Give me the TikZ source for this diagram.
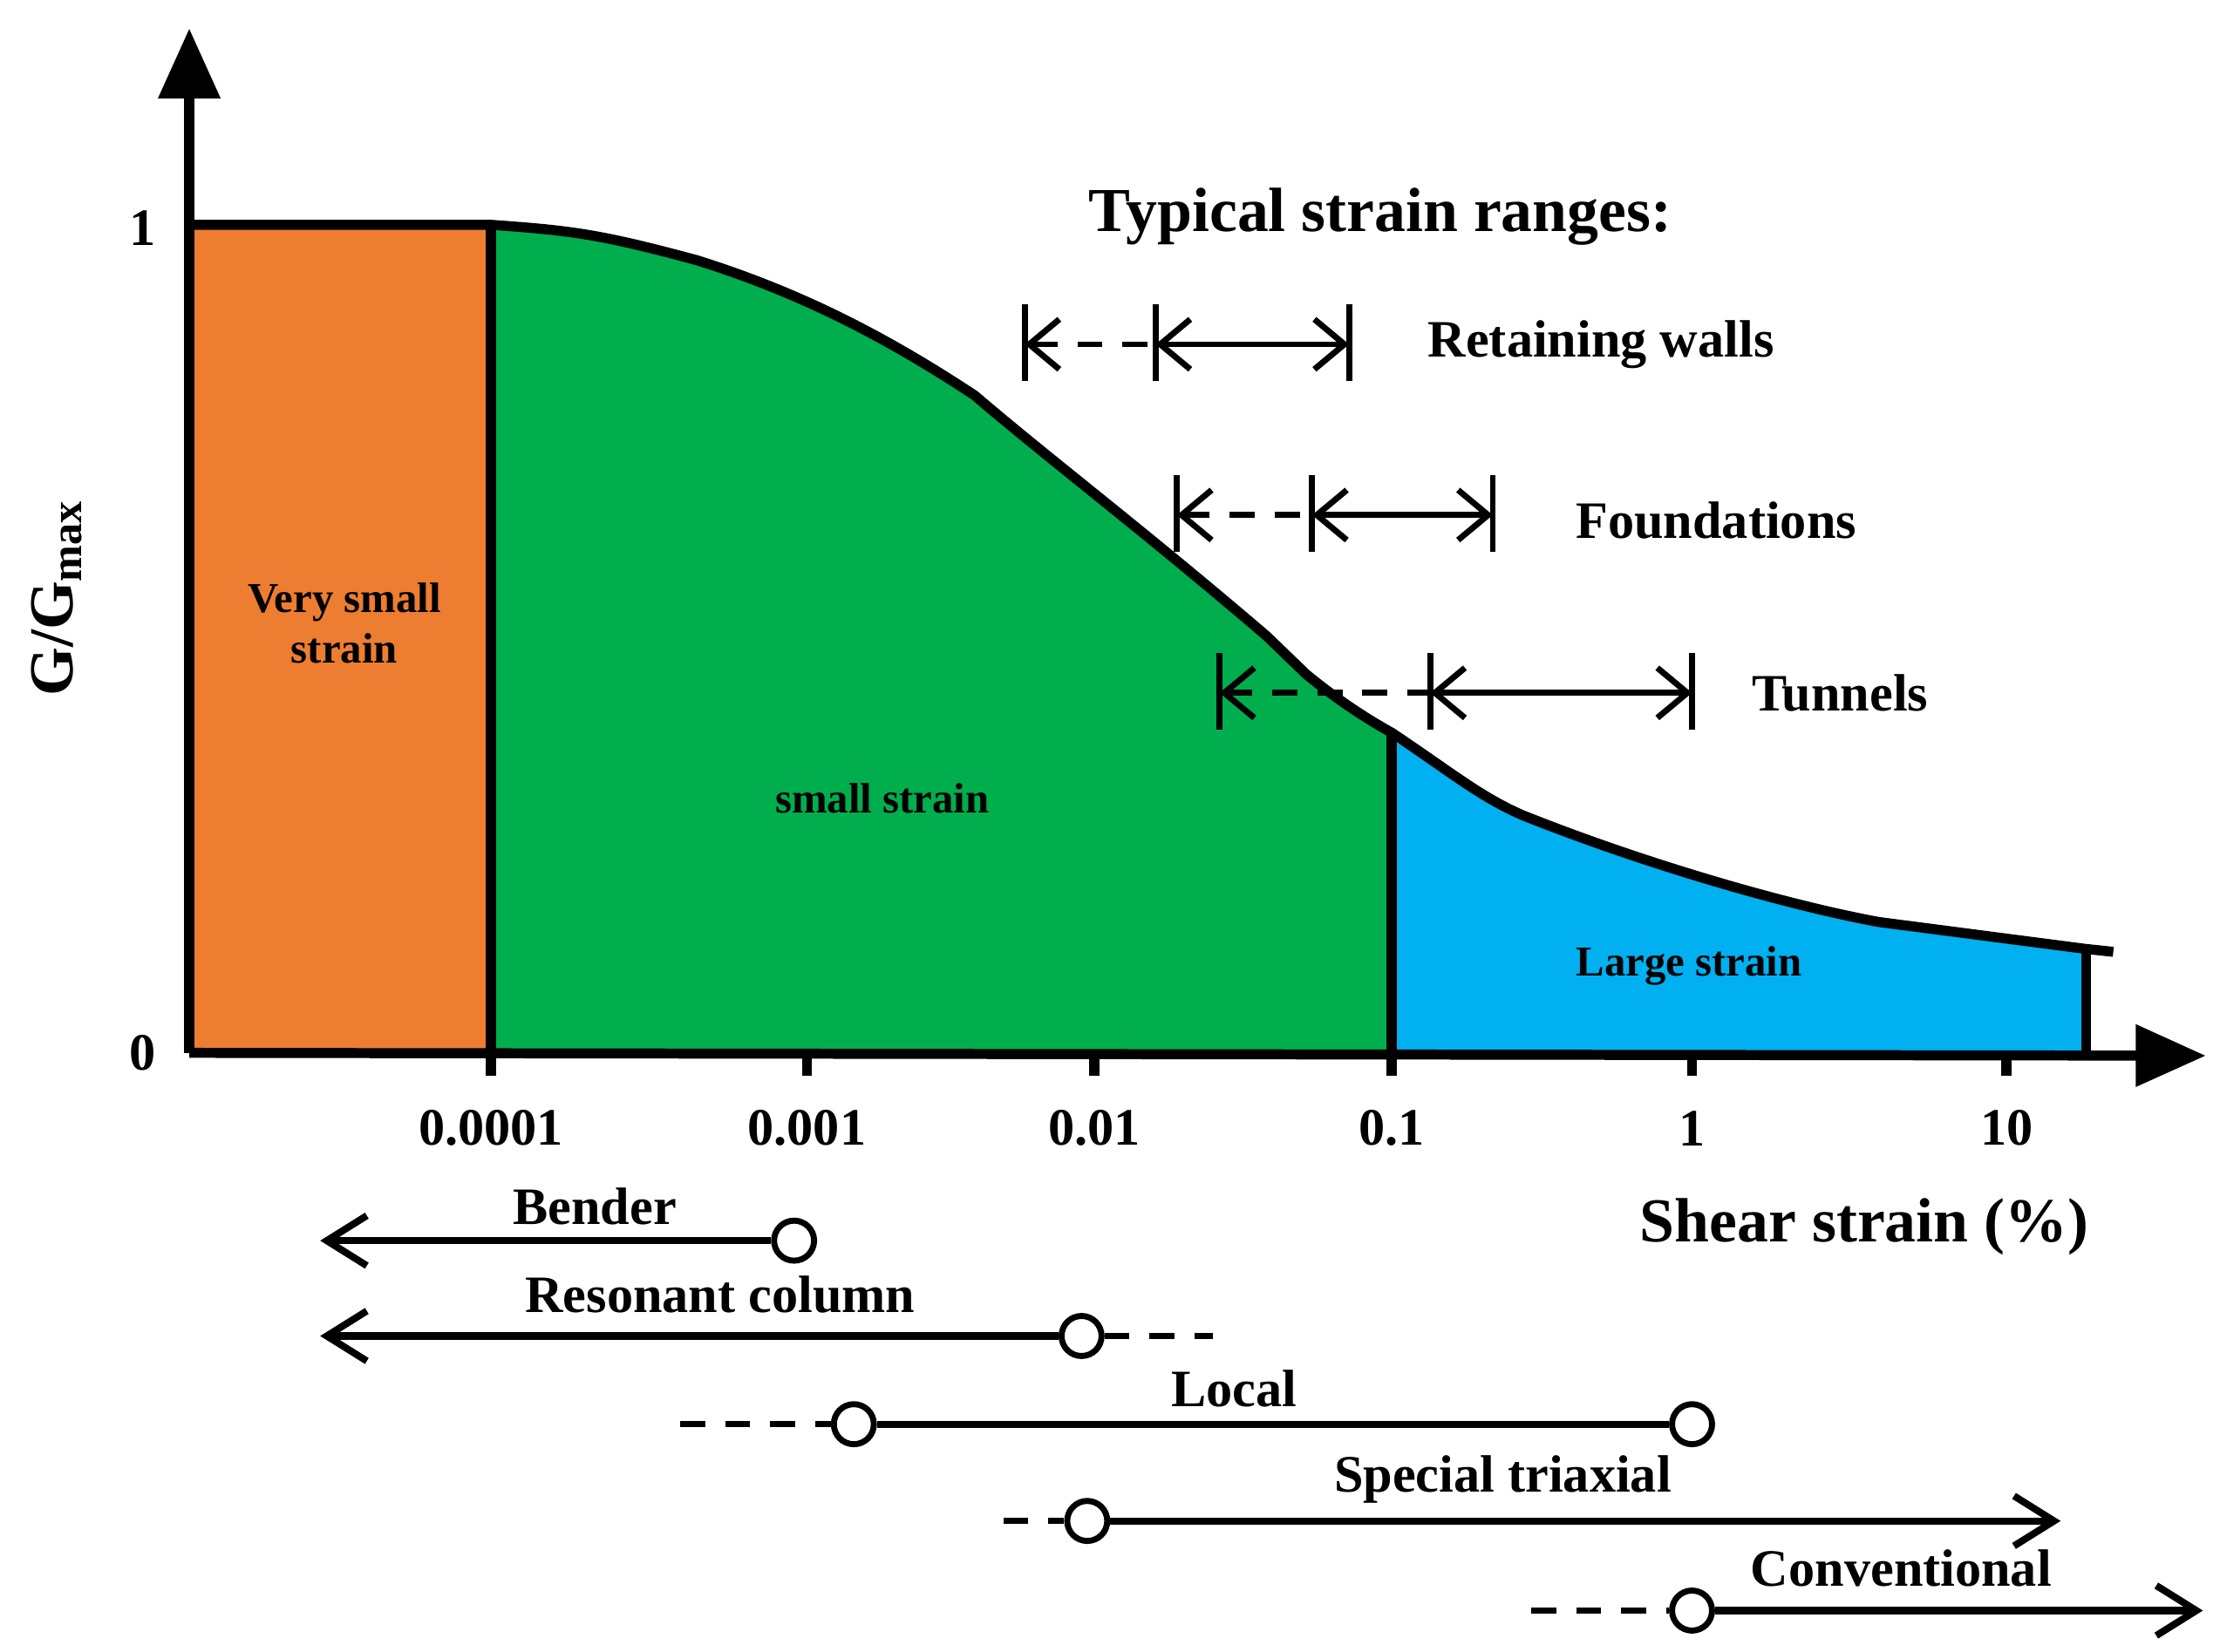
\documentclass[tikz,border=0pt]{standalone}
\usepackage{fontspec}
\setmainfont{Liberation Serif}
\usetikzlibrary{arrows.meta}
\definecolor{orng}{HTML}{ED7D31}
\definecolor{grn}{HTML}{00AE4D}
\definecolor{blu}{HTML}{00B0F0}
\begin{document}
\begin{tikzpicture}[x=0.01cm,y=-0.01cm,
  lbl/.style={font=\bfseries\fontsize{10.5}{12}\selectfont,inner sep=0},
  big/.style={font=\bfseries\fontsize{12.5}{14}\selectfont,inner sep=0},
  small/.style={font=\bfseries\fontsize{8.5}{10}\selectfont,align=center,inner sep=0},
  bar/.style={line width=1.2pt},
  rng/.style={line width=1.2pt,{Straight Barb[length=6pt,width=10pt]}-{Straight Barb[length=6pt,width=10pt]}},
  dsh/.style={line width=1.2pt,dash pattern=on 5pt off 4pt},
  circ/.style={circle,draw,line width=1.2pt,fill=white,minimum size=8pt,inner sep=0},
  ln/.style={line width=1.4pt}]
\useasboundingbox (0,0) rectangle (1560,1161);
% regions
\fill[orng] (133,158) rectangle (345,740);
\fill[grn] (345,740) -- (345,158) .. controls (400,162) and (420,164) .. (490,183) .. controls (560,205) and (620,235) .. (685,278) .. controls (740,325) and (800,370) .. (890,447) -- (918,474) .. controls (940,492) and (960,505) .. (978,515) -- (978,740) -- cycle;
\fill[blu] (978,740) -- (978,520) .. controls (1020,543) and (1040,560) .. (1070,573) .. controls (1150,605) and (1250,635) .. (1320,648) -- (1466,667) -- (1466,740) -- cycle;
\draw[line width=2pt] (133,158) -- (345,158) .. controls (400,162) and (420,164) .. (490,183) .. controls (560,205) and (620,235) .. (685,278) .. controls (740,325) and (800,370) .. (890,447) -- (918,474) .. controls (940,492) and (960,505) .. (978,515) .. controls (1020,543) and (1040,560) .. (1070,573) .. controls (1150,605) and (1250,635) .. (1320,648) -- (1466,667) -- (1485,669);
\draw[line width=2pt] (345,158) -- (345,740) (978,515) -- (978,740) (1466,667) -- (1466,740);
% axes
\coordinate (o) at (133,740);
\coordinate (ytop) at (133,20);
\coordinate (xend) at (1550,742);
\draw[line width=2pt,-{Triangle[length=14pt,width=12pt]}] (o) -- (ytop);
\draw[line width=2pt,-{Triangle[length=14pt,width=12pt]}] (o) -- (xend);
\foreach \x/\t [count=\i] in {345/0.0001,567/0.001,769/0.01,978/0.1,1189/1,1410/10}{
  \draw[line width=2pt] (\x,740) -- (\x,756);
  \node[lbl] (tk\i) at (\x,793) {\t};}
\node[lbl] (one) at (100,160) {1};
\node[lbl] (zero) at (100,740) {0};
\node[big,rotate=90] (ylab) at (40,420) {G/G\textsubscript{max}};
\node[big] (xlab) at (1310,862) {Shear strain (\%)};
\node[small] (vs) at (242,438) {Very small\\strain};
\node[small] (ss) at (620,561) {small strain};
\node[small] (ls) at (1187,679) {Large strain};
\node[big] (title) at (970,152) {Typical strain ranges:};
% ranges
\foreach \a/\b/\c/\y/\nm in {720/812/948/242/rw,827/922/1049/362/fd,857/1005/1189/487/tn}{
  \coordinate (\nm a) at (\a,\y); \coordinate (\nm b) at (\b,\y); \coordinate (\nm c) at (\c,\y);
  \draw[bar] (\a,\y-28) -- (\a,\y+26) (\b,\y-28) -- (\b,\y+26) (\c,\y-28) -- (\c,\y+26);
  \draw[dsh,{Straight Barb[length=6pt,width=10pt]}-] (\nm a) -- (\nm b);
  \draw[rng] (\nm b) -- (\nm c);
}
\node[lbl] (rwl) at (1125,242) {Retaining walls};
\node[lbl] (fdl) at (1206,366) {Foundations};
\node[lbl] (tnl) at (1293,487) {Tunnels};
% tests
\node[circ] (c1) at (558,872) {};
\coordinate (b1) at (225,872);
\draw[ln,-{Straight Barb[length=8pt,width=10pt]}] (c1) -- (b1);
\node[lbl] (bl) at (418,848) {Bender};
\node[circ] (c2) at (760,939) {};
\coordinate (b2) at (225,939); \coordinate (d2) at (852,939);
\draw[ln,-{Straight Barb[length=8pt,width=10pt]}] (c2) -- (b2);
\draw[dsh] (c2) -- (d2);
\node[lbl] (rl) at (506,910) {Resonant column};
\node[circ] (c3) at (600,1001) {}; \node[circ] (c4) at (1189,1001) {};
\coordinate (d3) at (478,1001);
\draw[ln] (c3) -- (c4); \draw[dsh] (d3) -- (c3);
\node[lbl] (ll) at (867,976) {Local};
\node[circ] (c5) at (764,1069) {};
\coordinate (d5) at (705,1069); \coordinate (e5) at (1448,1069);
\draw[ln,-{Straight Barb[length=8pt,width=10pt]}] (c5) -- (e5); \draw[dsh] (d5) -- (c5);
\node[lbl] (stl) at (1056,1040) {Special triaxial};
\node[circ] (c6) at (1189,1132) {};
\coordinate (d6) at (1076,1132); \coordinate (e6) at (1548,1132);
\draw[ln,-{Straight Barb[length=8pt,width=10pt]}] (c6) -- (e6); \draw[dsh] (d6) -- (c6);
\node[lbl] (cl) at (1336,1102) {Conventional};
\end{tikzpicture}
\end{document}
